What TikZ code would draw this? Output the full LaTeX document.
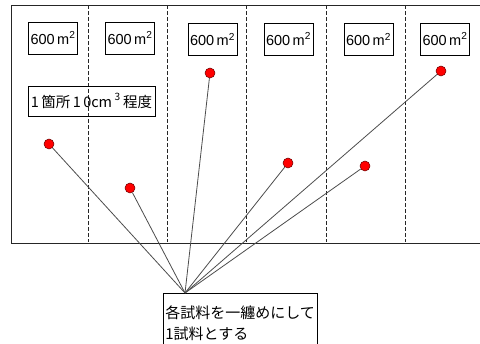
\documentclass[tikz,border=0pt]{standalone}
\usepackage{fontspec}
\setmainfont{Liberation Sans}
\newfontfamily\cjk{Noto Sans CJK JP}
\begin{document}
\begin{tikzpicture}[x=1pt,y=-1pt,
  areabox/.style={draw=black,line width=0.8pt,minimum width=49pt,minimum height=32pt,inner sep=0pt,font=\fontsize{14.5}{16}\selectfont},
  labelbox/.style={draw=black,line width=0.8pt,inner sep=0pt,font=\cjk\fontsize{15}{21}\selectfont},
  sample/.style={circle,draw=black!60!red,line width=0.5pt,fill=red,minimum size=10pt,inner sep=0pt},
  divider/.style={draw=black!85,line width=0.8pt,dash pattern=on 4pt off 2pt},
  frame/.style={draw=black!85,line width=0.9pt},
  link/.style={draw=black!70,line width=0.8pt}]
\useasboundingbox (0,0) rectangle (480,344);
% frame (open on the right)
\draw[frame] (490,5) -- (11,5) -- (11,243) -- (490,243);
% dividers
\foreach \x in {88,167,246,326,405}
  \draw[divider] (\x,5.5) -- (\x,242.5);
% area labels
\node[areabox] (a1) at (53,38) {600\,m\textsuperscript{2}};
\node[areabox] (a2) at (130,38) {600\,m\textsuperscript{2}};
\node[areabox] (a3) at (212.5,39.5) {600\,m\textsuperscript{2}};
\node[areabox] (a4) at (288.5,39) {600\,m\textsuperscript{2}};
\node[areabox] (a5) at (368.5,39.5) {600\,m\textsuperscript{2}};
\node[areabox] (a6) at (445,39) {600\,m\textsuperscript{2}};
% volume label
\node[labelbox,minimum width=127pt,minimum height=30pt,font=\cjk\fontsize{14.5}{16}\selectfont] (vol) at (91.5,101) {1\,箇所\,1\,0cm\,\raisebox{1pt}{\textsuperscript{3}}\,程度};
% samples
\node[sample] (s1) at (49,144) {};
\node[sample] (s2) at (130,188) {};
\node[sample] (s3) at (210,73) {};
\node[sample] (s4) at (288,163) {};
\node[sample] (s5) at (365,166) {};
\node[sample] (s6) at (441,71) {};
% combined sample box
\node[labelbox,anchor=north west,minimum width=153pt,minimum height=59pt,align=left,inner sep=2pt] (mix) at (163,293)
  {各試料を一纏めにして\\1試料とする};
\coordinate (c) at (185,293);
\foreach \s in {s1,s2,s3,s4,s5,s6}
  \draw[link] (c) -- (\s);
\end{tikzpicture}
\end{document}
